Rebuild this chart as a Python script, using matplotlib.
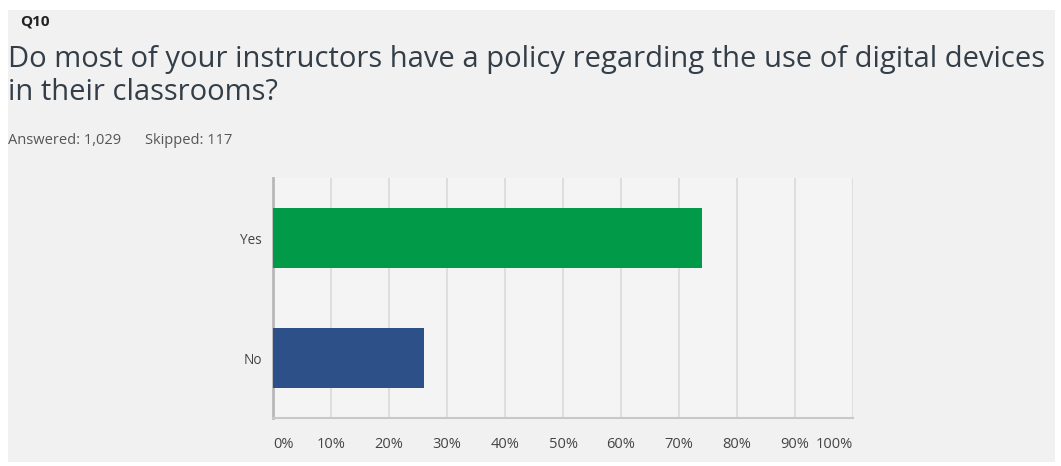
import matplotlib.pyplot as plt
from matplotlib.ticker import FixedLocator

# answer options (top to bottom) and their share of responses
answers = ["Yes", "No"]
percents = [73.9, 26.1]
bar_colors = ["#009a49", "#2d5088"]
tick_vals = [0, 10, 20, 30, 40, 50, 60, 70, 80, 90, 100]
tick_labels = ["%d%%" % v for v in tick_vals]

question = "Do most of your instructors have a policy regarding the use of digital devices\nin their classrooms?"
answered = "Answered: 1,029"
skipped = "Skipped: 117"

plt.rcParams["font.family"] = ["Open Sans", "DejaVu Sans"]

fig = plt.figure(figsize=(10.61, 4.66), dpi=100)
fig.patch.set_facecolor("white")

# light grey card behind everything
card = plt.Rectangle((8 / 1061, 4 / 466), 1047 / 1061, 452 / 466,
                     transform=fig.transFigure, facecolor="#f1f1f1",
                     edgecolor="none", zorder=-10)
fig.patches.append(card)

fig.text(20 / 1061, 1 - 22 / 466, "Q10", fontsize=11, fontweight="bold",
         color="#222222", va="center")
fig.text(8 / 1061, 1 - 76 / 466, question, fontsize=21, color="#333e48",
         va="center", linespacing=1.2)
fig.text(8 / 1061, 1 - 140 / 466, answered, fontsize=10.5, color="#555555", va="center")
fig.text(145 / 1061, 1 - 140 / 466, skipped, fontsize=10.5, color="#555555", va="center")

ax = fig.add_axes([273 / 1061, 1 - 418 / 466, 580 / 1061, 240 / 466])
ax.set_facecolor("#f4f4f4")

ypos = list(range(len(answers)))
ax.barh(ypos, percents, height=0.5, color=bar_colors, zorder=3)

ax.set_xlim(0, 100)
ax.set_ylim(len(answers) - 0.5, -0.5)
ax.set_yticks(ypos)
ax.set_yticklabels(answers, fontsize=9.8, color="#444444")
ax.xaxis.set_major_locator(FixedLocator(tick_vals))
ax.set_xticklabels(tick_labels, fontsize=10.5, color="#444444")
for i, lab in enumerate(ax.get_xticklabels()):
    if i == 0:
        lab.set_ha("left")
    elif i == len(tick_vals) - 1:
        lab.set_ha("right")

ax.tick_params(axis="both", length=0)
ax.tick_params(axis="x", pad=14)
ax.tick_params(axis="y", pad=8)
ax.grid(axis="x", color="#dadada", linewidth=1.2, zorder=0)

for side in ["top", "right"]:
    ax.spines[side].set_visible(False)
ax.spines["left"].set_color("#b8b8b8")
ax.spines["left"].set_linewidth(2)
ax.spines["bottom"].set_color("#c8c8c8")
ax.spines["bottom"].set_linewidth(1.5)

fig.savefig("out.png", dpi=100)
